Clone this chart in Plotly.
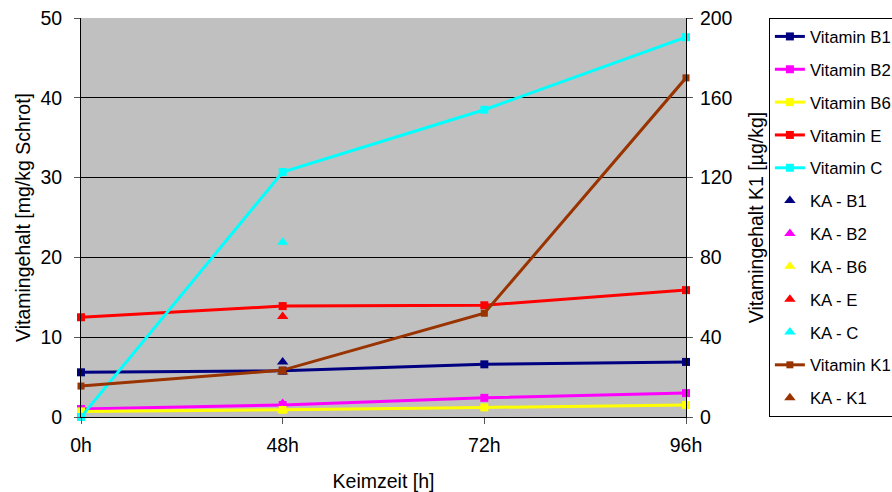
import plotly.graph_objects as go

categories = ["0h", "48h", "72h", "96h"]
x_pos = [0, 1, 2, 3]

vit_b1 = [5.6, 5.8, 6.6, 6.9]
vit_b2 = [1.0, 1.5, 2.4, 3.0]
vit_b6 = [0.7, 0.9, 1.2, 1.5]
vit_e = [12.5, 13.9, 14.0, 15.9]
vit_c = [0.0, 30.7, 38.5, 47.6]
vit_k1 = [15.5, 23.5, 52.0, 170.0]

ka_x = [1]
ka_b1 = [6.9]
ka_b2 = [1.7]
ka_b6 = [0.8]
ka_e = [12.6]
ka_c = [21.9]
ka_k1 = [22.5]

FONT = "Liberation Sans, Arial, sans-serif"
TICK_SIZE = 19.5
TITLE_SIZE = 19.5

fig = go.Figure()

line_series = [
    ("Vitamin B1", vit_b1, "#000080"),
    ("Vitamin B2", vit_b2, "#FF00FF"),
    ("Vitamin B6", vit_b6, "#FFFF00"),
    ("Vitamin E", vit_e, "#FF0000"),
    ("Vitamin C", vit_c, "#00FFFF"),
]
ka_series = [
    ("KA - B1", ka_b1, "#000080"),
    ("KA - B2", ka_b2, "#FF00FF"),
    ("KA - B6", ka_b6, "#FFFF00"),
    ("KA - E", ka_e, "#FF0000"),
    ("KA - C", ka_c, "#00FFFF"),
]

for i, (name, vals, col) in enumerate(line_series):
    fig.add_trace(go.Scatter(
        x=x_pos, y=vals, name=name, mode="lines+markers",
        line=dict(color=col, width=3),
        marker=dict(symbol="square", size=8, color=col),
        cliponaxis=False, legendgroup=name,
    ))
for name, vals, col in ka_series:
    fig.add_trace(go.Scatter(
        x=ka_x, y=vals, name=name, mode="markers",
        marker=dict(symbol="triangle-up", size=10, color=col),
        cliponaxis=False, legendgroup=name,
    ))
fig.add_trace(go.Scatter(
    x=x_pos, y=vit_k1, name="Vitamin K1", mode="lines+markers",
    line=dict(color="#993300", width=3),
    marker=dict(symbol="square", size=7, color="#993300"),
    cliponaxis=False, yaxis="y2", legendgroup="Vitamin K1",
))
fig.add_trace(go.Scatter(
    x=ka_x, y=ka_k1, name="KA - K1", mode="markers",
    marker=dict(symbol="triangle-up", size=10, color="#993300"),
    cliponaxis=False, yaxis="y2", legendgroup="KA - K1",
))

fig.update_layout(
    width=892, height=492,
    margin=dict(l=81, r=206, t=18, b=75, autoexpand=False),
    paper_bgcolor="white",
    plot_bgcolor="#C0C0C0",
    font=dict(family=FONT, size=17, color="black"),
    xaxis=dict(
        range=[0, 3], tickvals=x_pos, ticktext=categories,
        showgrid=False, zeroline=False,
        showline=True, linecolor="black", linewidth=1,
        ticks="outside", ticklen=6, tickcolor="#555555",
        tickfont=dict(size=TICK_SIZE), ticklabelstandoff=5,
        title=dict(text="Keimzeit [h]", standoff=18, font=dict(size=TITLE_SIZE)),
        automargin=False,
    ),
    yaxis=dict(
        range=[0, 50], dtick=10,
        showgrid=True, gridcolor="black", gridwidth=1,
        zeroline=False, showline=True, linecolor="black", linewidth=1,
        ticks="outside", ticklen=6, tickcolor="#555555",
        tickfont=dict(size=TICK_SIZE), ticklabelstandoff=8,
        title=dict(text="Vitamingehalt [mg/kg Schrot]", standoff=4, font=dict(size=TITLE_SIZE)),
        automargin=False,
    ),
    yaxis2=dict(
        range=[0, 200], dtick=40, overlaying="y", side="right",
        showgrid=False, zeroline=False,
        showline=True, linecolor="black", linewidth=1,
        ticks="outside", ticklen=6, tickcolor="#555555",
        tickfont=dict(size=TICK_SIZE), ticklabelstandoff=3,
        title=dict(text="Vitamingehalt K1 [µg/kg]", standoff=17, font=dict(size=TITLE_SIZE)),
        automargin=False,
    ),
    legend=dict(
        x=1.137, y=1.0, xanchor="left", yanchor="top",
        bordercolor="black", borderwidth=1, bgcolor="white",
        font=dict(family=FONT, size=16.8),
        traceorder="grouped", tracegroupgap=8,
        itemwidth=30,
    ),
    showlegend=True,
)

fig.write_html(
    "out.html",
    config={"displayModeBar": False},
    post_script="document.body.style.margin='0';document.body.style.padding='0';",
)
